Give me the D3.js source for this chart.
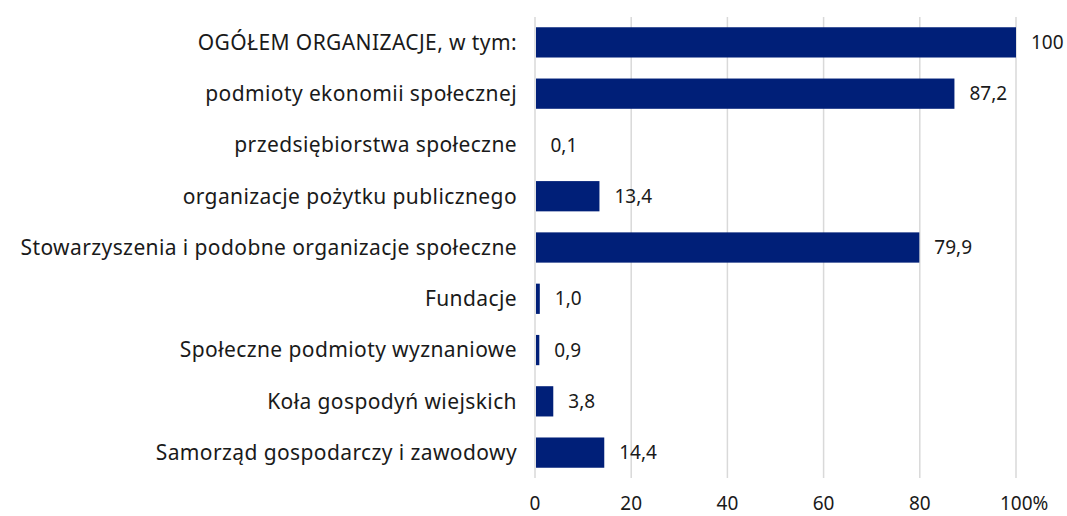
<!DOCTYPE html>
<html>
<head>
<meta charset="utf-8">
<script src="https://cdn.jsdelivr.net/npm/d3@7"></script>
<style>
  body { margin: 0; background: #fff; }
  text { font-family: "Noto Sans", "Open Sans", sans-serif; fill: #1a1a1a; }
</style>
</head>
<body>
<div id="chart"></div>
<script>
var categories = [
  "OGÓŁEM ORGANIZACJE, w tym:",
  "podmioty ekonomii społecznej",
  "przedsiębiorstwa społeczne",
  "organizacje pożytku publicznego",
  "Stowarzyszenia i podobne organizacje społeczne",
  "Fundacje",
  "Społeczne podmioty wyznaniowe",
  "Koła gospodyń wiejskich",
  "Samorząd gospodarczy i zawodowy"
];
var values = [100, 87.2, 0.1, 13.4, 79.9, 1.0, 0.9, 3.8, 14.4];
var valueLabels = ["100", "87,2", "0,1", "13,4", "79,9", "1,0", "0,9", "3,8", "14,4"];
var ticks = [0, 20, 40, 60, 80, 100];
var tickLabels = ["0", "20", "40", "60", "80", "100%"];

var width = 1067, height = 516;
var svg = d3.select('#chart')
  .append('svg')
  .attr('width', width)
  .attr('height', height);

var x = d3.scaleLinear().domain([0, 100]).range([535, 1016]);
var y = d3.scaleBand().domain(categories).range([17, 478]).paddingInner(0.41).paddingOuter(0.2);

// gridlines
svg.selectAll('line.grid')
  .data(ticks)
  .enter()
  .append('line')
  .attr('class', 'grid')
  .attr('x1', function(d){ return x(d); })
  .attr('x2', function(d){ return x(d); })
  .attr('y1', 17)
  .attr('y2', 478)
  .attr('stroke', '#d9d9d9')
  .attr('stroke-width', 1.5);

// bars (tiny values like 0,1 stay invisible, as in the original)
svg.selectAll('rect.bar')
  .data(values)
  .enter()
  .append('rect')
  .attr('class', 'bar')
  .attr('x', x(0) + 1)
  .attr('y', function(d, i){ return y(categories[i]); })
  .attr('width', function(d){ var w = x(d) - x(0) - 1; return w < 1 ? 0 : w; })
  .attr('height', y.bandwidth())
  .attr('fill', '#001f78');

// value labels
svg.selectAll('text.val')
  .data(values)
  .enter()
  .append('text')
  .attr('class', 'val')
  .attr('x', function(d){ return x(d) + 15; })
  .attr('y', function(d, i){ return y(categories[i]) + y.bandwidth() / 2; })
  .attr('dy', '.35em')
  .style('font-size', '19px')
  .text(function(d, i){ return valueLabels[i]; });

// category labels
svg.selectAll('text.cat')
  .data(categories)
  .enter()
  .append('text')
  .attr('class', 'cat')
  .attr('x', 517)
  .attr('y', function(d){ return y(d) + y.bandwidth() / 2; })
  .attr('dy', '.35em')
  .attr('text-anchor', 'end')
  .style('font-size', '21px')
  .style('letter-spacing', '0.4px')
  .text(function(d){ return d; });

// x tick labels
svg.selectAll('text.tick')
  .data(ticks)
  .enter()
  .append('text')
  .attr('class', 'tick')
  .attr('x', function(d){ return x(d); })
  .attr('y', 503)
  .attr('dy', '.35em')
  .attr('text-anchor', function(d, i){ return i === ticks.length - 1 ? 'start' : 'middle'; })
  .attr('dx', function(d, i){ return i === ticks.length - 1 ? -16 : 0; })
  .style('font-size', '19px')
  .text(function(d, i){ return tickLabels[i]; });
</script>
</body>
</html>
